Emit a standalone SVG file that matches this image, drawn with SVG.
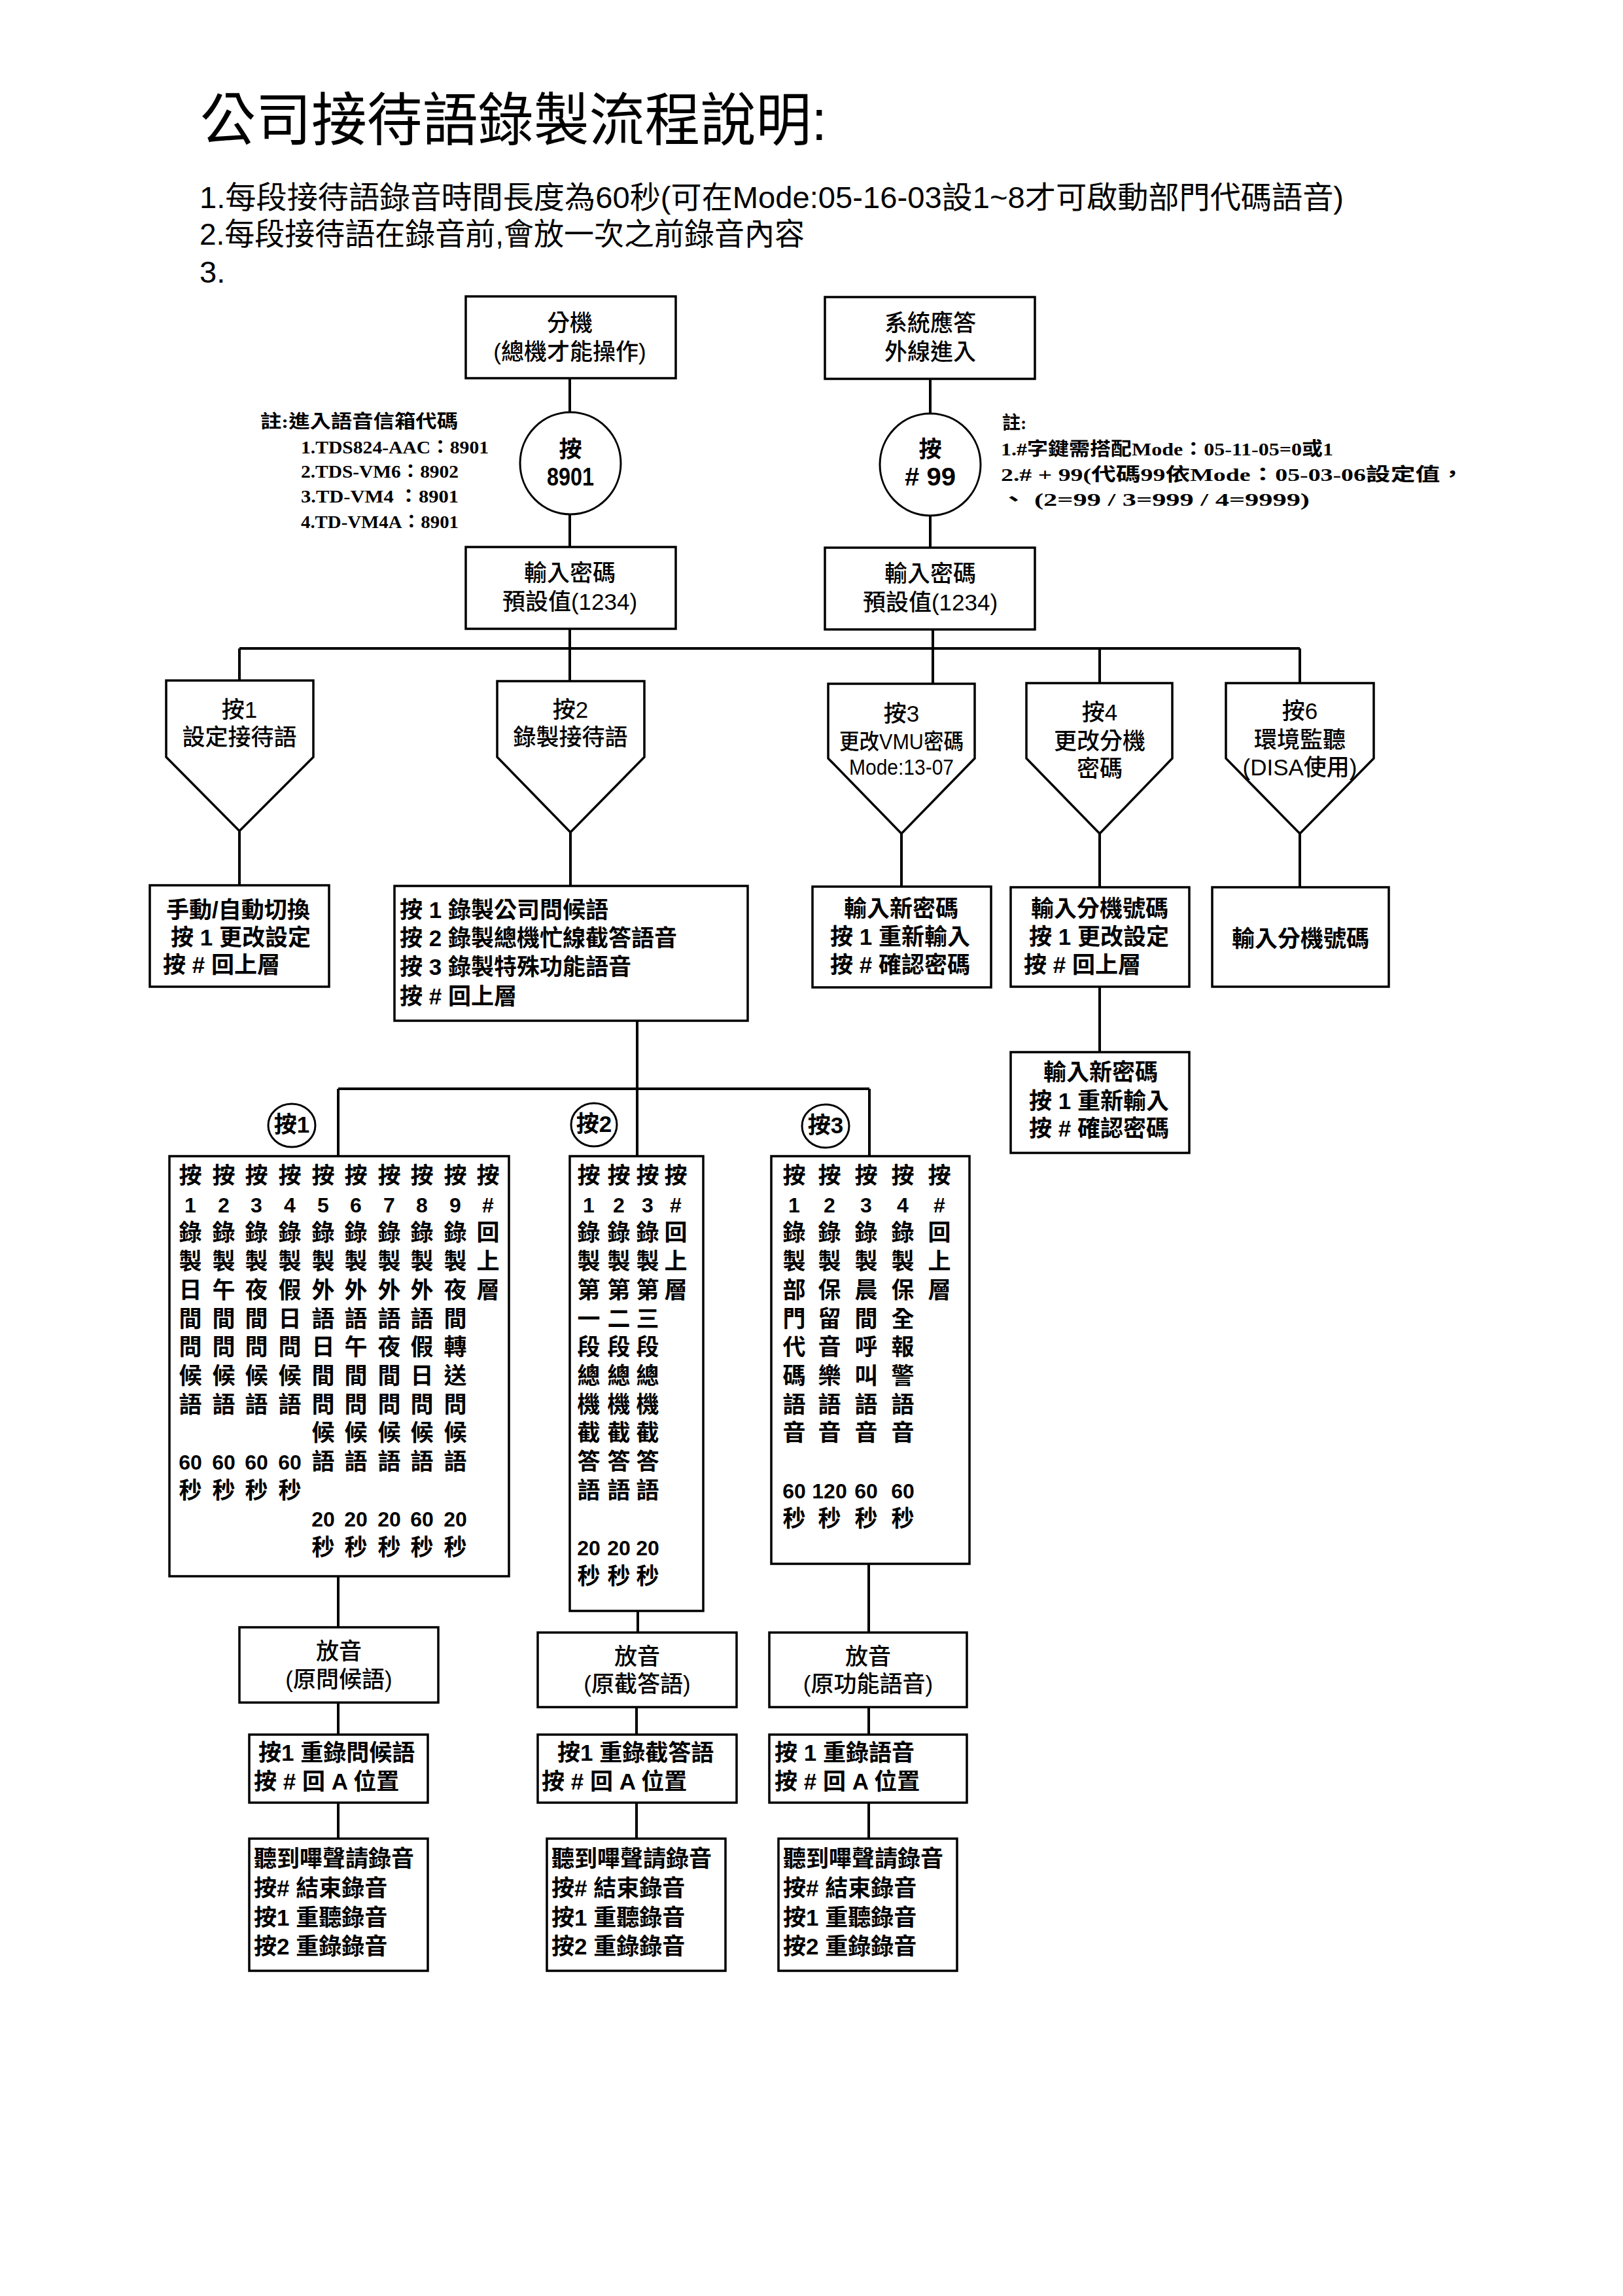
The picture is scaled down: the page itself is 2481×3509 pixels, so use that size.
<svg xmlns="http://www.w3.org/2000/svg" width="2481" height="3509" viewBox="0 0 2481 3509">
<style>
text{font-family:"Liberation Sans","Noto Sans CJK TC","Noto Sans CJK SC",sans-serif;fill:#000}
.box{fill:#fff;stroke:#000;stroke-width:3.5}
.ell{fill:#fff;stroke:#000;stroke-width:3}
.ln{stroke:#000;stroke-width:4;fill:none}
.h{font-weight:400}
.m{font-size:35px;font-weight:500}
.b{font-size:35px;font-weight:700}
.c{text-anchor:middle}
.n{font-family:"Liberation Serif","Noto Sans CJK TC",serif;font-weight:700;font-size:28px}
.g{font-size:35px;font-weight:700;text-anchor:middle}
.d{font-size:32px}
</style>
<rect x="0" y="0" width="2481" height="3509" fill="#fff"/>

<g id="header">
<text class="h" x="306" y="214" font-size="88" textLength="958" lengthAdjust="spacingAndGlyphs">公司接待語錄製流程說明:</text>
<text class="h" font-size="47"><tspan x="305" y="318" textLength="1749" lengthAdjust="spacingAndGlyphs">1.每段接待語錄音時間長度為60秒(可在Mode:05-16-03設1~8才可啟動部門代碼語音)</tspan><tspan x="305" y="374" textLength="925" lengthAdjust="spacingAndGlyphs">2.每段接待語在錄音前,會放一次之前錄音內容</tspan><tspan x="305" y="432">3.</tspan></text>
</g>

<g id="connectors">
<line class="ln" x1="871" y1="577" x2="871" y2="630"/>
<line class="ln" x1="871" y1="786" x2="871" y2="836"/>
<line class="ln" x1="1422" y1="578" x2="1422" y2="632"/>
<line class="ln" x1="1422" y1="788" x2="1422" y2="837"/>
<line class="ln" x1="871" y1="961" x2="871" y2="1041"/>
<line class="ln" x1="1426" y1="962" x2="1426" y2="1045"/>
<line class="ln" x1="366" y1="991" x2="1987" y2="991" stroke-width="5"/>
<line class="ln" x1="366" y1="991" x2="366" y2="1040"/>
<line class="ln" x1="1681" y1="991" x2="1681" y2="1044"/>
<line class="ln" x1="1987" y1="991" x2="1987" y2="1044"/>
<line class="ln" x1="366" y1="1270" x2="366" y2="1353"/>
<line class="ln" x1="872" y1="1272" x2="872" y2="1354"/>
<line class="ln" x1="1378" y1="1274" x2="1378" y2="1355"/>
<line class="ln" x1="1681" y1="1274" x2="1681" y2="1356"/>
<line class="ln" x1="1987" y1="1274" x2="1987" y2="1356"/>
<line class="ln" x1="1681" y1="1508" x2="1681" y2="1608"/>
<line class="ln" x1="974" y1="1560" x2="974" y2="1767"/>
<line class="ln" x1="517" y1="1664" x2="1329" y2="1664"/>
<line class="ln" x1="517" y1="1664" x2="517" y2="1767"/>
<line class="ln" x1="1329" y1="1664" x2="1329" y2="1767"/>
<line class="ln" x1="517" y1="2409" x2="517" y2="2487"/>
<line class="ln" x1="975" y1="2462" x2="975" y2="2495"/>
<line class="ln" x1="1328" y1="2390" x2="1328" y2="2495"/>
<line class="ln" x1="517" y1="2602" x2="517" y2="2651"/>
<line class="ln" x1="973" y1="2609" x2="973" y2="2651"/>
<line class="ln" x1="1328" y1="2609" x2="1328" y2="2651"/>
<line class="ln" x1="517" y1="2755" x2="517" y2="2810"/>
<line class="ln" x1="973" y1="2755" x2="973" y2="2810"/>
<line class="ln" x1="1328" y1="2755" x2="1328" y2="2810"/>
</g>

<g id="ext">
<rect class="box" x="712" y="453" width="321" height="125"/>
<text class="m c"><tspan x="871" y="506">分機</tspan><tspan x="871" y="550">(總機才能操作)</tspan></text>
</g>
<g id="sys">
<rect class="box" x="1261" y="454" width="321" height="125"/>
<text class="m c"><tspan x="1422" y="506">系統應答</tspan><tspan x="1422" y="550">外線進入</tspan></text>
</g>
<g id="press8901">
<ellipse class="ell" cx="872" cy="708" rx="77" ry="78"/>
<text class="b c"><tspan x="872" y="699">按</tspan><tspan x="872" y="742" font-size="38" textLength="72" lengthAdjust="spacingAndGlyphs">8901</tspan></text>
</g>
<g id="press99">
<ellipse class="ell" cx="1422" cy="710" rx="77" ry="78"/>
<text class="b c"><tspan x="1422" y="699">按</tspan><tspan x="1422" y="742" font-size="38" textLength="78" lengthAdjust="spacingAndGlyphs"># 99</tspan></text>
</g>
<g id="note-left">
<text class="n"><tspan x="398" y="654" textLength="302" lengthAdjust="spacingAndGlyphs">註:進入語音信箱代碼</tspan><tspan x="460" y="693" textLength="287" lengthAdjust="spacingAndGlyphs">1.TDS824-AAC：8901</tspan><tspan x="460" y="730" textLength="241" lengthAdjust="spacingAndGlyphs">2.TDS-VM6：8902</tspan><tspan x="460" y="768" textLength="241" lengthAdjust="spacingAndGlyphs">3.TD-VM4  ：8901</tspan><tspan x="460" y="807" textLength="241" lengthAdjust="spacingAndGlyphs">4.TD-VM4A：8901</tspan></text>
</g>
<g id="note-right">
<text class="n"><tspan x="1532" y="656">註:</tspan><tspan x="1530" y="696" textLength="508" lengthAdjust="spacingAndGlyphs">1.#字鍵需搭配Mode：05-11-05=0或1</tspan><tspan x="1530" y="735" textLength="709" lengthAdjust="spacingAndGlyphs">2.# + 99(代碼99依Mode：05-03-06設定值，</tspan><tspan x="1528" y="773" textLength="474" lengthAdjust="spacingAndGlyphs">、 (2=99 / 3=999  /  4=9999)</tspan></text>
</g>
<g id="pwd1">
<rect class="box" x="712" y="836" width="321" height="125"/>
<text class="m c"><tspan x="871" y="888">輸入密碼</tspan><tspan x="871" y="932">預設值(1234)</tspan></text>
</g>
<g id="pwd2">
<rect class="box" x="1261" y="837" width="321" height="125"/>
<text class="m c"><tspan x="1422" y="889">輸入密碼</tspan><tspan x="1422" y="933">預設值(1234)</tspan></text>
</g>

<g id="p1">
<path class="box" d="M254,1040 H479 V1157 L366,1270 L254,1157 Z"/>
<text class="m c"><tspan x="366" y="1097">按1</tspan><tspan x="366" y="1139">設定接待語</tspan></text>
</g>
<g id="p2">
<path class="box" d="M760,1041 H985 V1157 L872,1272 L760,1157 Z"/>
<text class="m c"><tspan x="872" y="1097">按2</tspan><tspan x="872" y="1139">錄製接待語</tspan></text>
</g>
<g id="p3">
<path class="box" d="M1266,1045 H1490 V1159 L1378,1274 L1266,1159 Z"/>
<text class="m c"><tspan x="1378" y="1103">按3</tspan><tspan x="1378" y="1145" font-size="33" textLength="190" lengthAdjust="spacingAndGlyphs">更改VMU密碼</tspan><tspan x="1378" y="1184" font-size="33" textLength="160" lengthAdjust="spacingAndGlyphs">Mode:13-07</tspan></text>
</g>
<g id="p4">
<path class="box" d="M1569,1044 H1792 V1159 L1681,1274 L1569,1159 Z"/>
<text class="m c"><tspan x="1681" y="1101">按4</tspan><tspan x="1681" y="1145">更改分機</tspan><tspan x="1681" y="1187">密碼</tspan></text>
</g>
<g id="p6">
<path class="box" d="M1874,1044 H2100 V1159 L1987,1274 L1874,1159 Z"/>
<text class="m c"><tspan x="1987" y="1099">按6</tspan><tspan x="1987" y="1143">環境監聽</tspan><tspan x="1987" y="1185">(DISA使用)</tspan></text>
</g>

<g id="b1">
<rect class="box" x="229" y="1353" width="274" height="155"/>
<text class="b"><tspan x="254" y="1403">手動/自動切換</tspan><tspan x="261" y="1445">按 1 更改設定</tspan><tspan x="249" y="1487">按 # 回上層</tspan></text>
</g>
<g id="b2">
<rect class="box" x="603" y="1354" width="540" height="206"/>
<text class="b"><tspan x="611" y="1403">按 1 錄製公司問候語</tspan><tspan x="611" y="1446">按 2 錄製總機忙線截答語音</tspan><tspan x="611" y="1490">按 3 錄製特殊功能語音</tspan><tspan x="611" y="1535">按 # 回上層</tspan></text>
</g>
<g id="b3">
<rect class="box" x="1242" y="1355" width="273" height="154"/>
<text class="b"><tspan x="1290" y="1401">輸入新密碼</tspan><tspan x="1269" y="1444">按 1 重新輸入</tspan><tspan x="1269" y="1487">按 # 確認密碼</tspan></text>
</g>
<g id="b4">
<rect class="box" x="1545" y="1356" width="273" height="152"/>
<text class="b"><tspan x="1576" y="1401">輸入分機號碼</tspan><tspan x="1573" y="1444">按 1 更改設定</tspan><tspan x="1565" y="1487">按 # 回上層</tspan></text>
</g>
<g id="b5">
<rect class="box" x="1853" y="1356" width="270" height="152"/>
<text class="b c" x="1988" y="1447">輸入分機號碼</text>
</g>
<g id="b6">
<rect class="box" x="1545" y="1608" width="273" height="154"/>
<text class="b"><tspan x="1595" y="1651">輸入新密碼</tspan><tspan x="1573" y="1695">按 1 重新輸入</tspan><tspan x="1573" y="1737">按 # 確認密碼</tspan></text>
</g>

<g id="k1">
<ellipse class="ell" cx="446" cy="1720" rx="36" ry="33"/>
<text class="b c" x="446" y="1731" font-size="30">按1</text>
</g>
<g id="k2">
<ellipse class="ell" cx="908" cy="1719" rx="35" ry="33"/>
<text class="b c" x="908" y="1730" font-size="30">按2</text>
</g>
<g id="k3">
<ellipse class="ell" cx="1262" cy="1721" rx="36" ry="33"/>
<text class="b c" x="1262" y="1732" font-size="30">按3</text>
</g>

<g id="c1">
<rect class="box" x="259" y="1767" width="519" height="642"/>
<text class="g"><tspan x="291" y="1809">按</tspan><tspan x="291" y="1853" class="d">1</tspan><tspan x="291" y="1896">錄</tspan><tspan x="291" y="1940">製</tspan><tspan x="291" y="1984">日</tspan><tspan x="291" y="2028">間</tspan><tspan x="291" y="2071">問</tspan><tspan x="291" y="2115">候</tspan><tspan x="291" y="2159">語</tspan><tspan x="291" y="2246" class="d">60</tspan><tspan x="291" y="2290">秒</tspan></text>
<text class="g"><tspan x="342" y="1809">按</tspan><tspan x="342" y="1853" class="d">2</tspan><tspan x="342" y="1896">錄</tspan><tspan x="342" y="1940">製</tspan><tspan x="342" y="1984">午</tspan><tspan x="342" y="2028">間</tspan><tspan x="342" y="2071">問</tspan><tspan x="342" y="2115">候</tspan><tspan x="342" y="2159">語</tspan><tspan x="342" y="2246" class="d">60</tspan><tspan x="342" y="2290">秒</tspan></text>
<text class="g"><tspan x="392" y="1809">按</tspan><tspan x="392" y="1853" class="d">3</tspan><tspan x="392" y="1896">錄</tspan><tspan x="392" y="1940">製</tspan><tspan x="392" y="1984">夜</tspan><tspan x="392" y="2028">間</tspan><tspan x="392" y="2071">問</tspan><tspan x="392" y="2115">候</tspan><tspan x="392" y="2159">語</tspan><tspan x="392" y="2246" class="d">60</tspan><tspan x="392" y="2290">秒</tspan></text>
<text class="g"><tspan x="443" y="1809">按</tspan><tspan x="443" y="1853" class="d">4</tspan><tspan x="443" y="1896">錄</tspan><tspan x="443" y="1940">製</tspan><tspan x="443" y="1984">假</tspan><tspan x="443" y="2028">日</tspan><tspan x="443" y="2071">問</tspan><tspan x="443" y="2115">候</tspan><tspan x="443" y="2159">語</tspan><tspan x="443" y="2246" class="d">60</tspan><tspan x="443" y="2290">秒</tspan></text>
<text class="g"><tspan x="494" y="1809">按</tspan><tspan x="494" y="1853" class="d">5</tspan><tspan x="494" y="1896">錄</tspan><tspan x="494" y="1940">製</tspan><tspan x="494" y="1984">外</tspan><tspan x="494" y="2028">語</tspan><tspan x="494" y="2071">日</tspan><tspan x="494" y="2115">間</tspan><tspan x="494" y="2159">問</tspan><tspan x="494" y="2202">候</tspan><tspan x="494" y="2246">語</tspan><tspan x="494" y="2333" class="d">20</tspan><tspan x="494" y="2377">秒</tspan></text>
<text class="g"><tspan x="544" y="1809">按</tspan><tspan x="544" y="1853" class="d">6</tspan><tspan x="544" y="1896">錄</tspan><tspan x="544" y="1940">製</tspan><tspan x="544" y="1984">外</tspan><tspan x="544" y="2028">語</tspan><tspan x="544" y="2071">午</tspan><tspan x="544" y="2115">間</tspan><tspan x="544" y="2159">問</tspan><tspan x="544" y="2202">候</tspan><tspan x="544" y="2246">語</tspan><tspan x="544" y="2333" class="d">20</tspan><tspan x="544" y="2377">秒</tspan></text>
<text class="g"><tspan x="595" y="1809">按</tspan><tspan x="595" y="1853" class="d">7</tspan><tspan x="595" y="1896">錄</tspan><tspan x="595" y="1940">製</tspan><tspan x="595" y="1984">外</tspan><tspan x="595" y="2028">語</tspan><tspan x="595" y="2071">夜</tspan><tspan x="595" y="2115">間</tspan><tspan x="595" y="2159">問</tspan><tspan x="595" y="2202">候</tspan><tspan x="595" y="2246">語</tspan><tspan x="595" y="2333" class="d">20</tspan><tspan x="595" y="2377">秒</tspan></text>
<text class="g"><tspan x="645" y="1809">按</tspan><tspan x="645" y="1853" class="d">8</tspan><tspan x="645" y="1896">錄</tspan><tspan x="645" y="1940">製</tspan><tspan x="645" y="1984">外</tspan><tspan x="645" y="2028">語</tspan><tspan x="645" y="2071">假</tspan><tspan x="645" y="2115">日</tspan><tspan x="645" y="2159">問</tspan><tspan x="645" y="2202">候</tspan><tspan x="645" y="2246">語</tspan><tspan x="645" y="2333" class="d">60</tspan><tspan x="645" y="2377">秒</tspan></text>
<text class="g"><tspan x="696" y="1809">按</tspan><tspan x="696" y="1853" class="d">9</tspan><tspan x="696" y="1896">錄</tspan><tspan x="696" y="1940">製</tspan><tspan x="696" y="1984">夜</tspan><tspan x="696" y="2028">間</tspan><tspan x="696" y="2071">轉</tspan><tspan x="696" y="2115">送</tspan><tspan x="696" y="2159">問</tspan><tspan x="696" y="2202">候</tspan><tspan x="696" y="2246">語</tspan><tspan x="696" y="2333" class="d">20</tspan><tspan x="696" y="2377">秒</tspan></text>
<text class="g"><tspan x="746" y="1809">按</tspan><tspan x="746" y="1853" class="d">#</tspan><tspan x="746" y="1896">回</tspan><tspan x="746" y="1940">上</tspan><tspan x="746" y="1984">層</tspan></text>
</g>

<g id="c2">
<rect class="box" x="871" y="1767" width="204" height="695"/>
<text class="g"><tspan x="900" y="1809">按</tspan><tspan x="900" y="1853" class="d">1</tspan><tspan x="900" y="1896">錄</tspan><tspan x="900" y="1940">製</tspan><tspan x="900" y="1984">第</tspan><tspan x="900" y="2028">一</tspan><tspan x="900" y="2071">段</tspan><tspan x="900" y="2115">總</tspan><tspan x="900" y="2159">機</tspan><tspan x="900" y="2202">截</tspan><tspan x="900" y="2246">答</tspan><tspan x="900" y="2290">語</tspan><tspan x="900" y="2377" class="d">20</tspan><tspan x="900" y="2421">秒</tspan></text>
<text class="g"><tspan x="946" y="1809">按</tspan><tspan x="946" y="1853" class="d">2</tspan><tspan x="946" y="1896">錄</tspan><tspan x="946" y="1940">製</tspan><tspan x="946" y="1984">第</tspan><tspan x="946" y="2028">二</tspan><tspan x="946" y="2071">段</tspan><tspan x="946" y="2115">總</tspan><tspan x="946" y="2159">機</tspan><tspan x="946" y="2202">截</tspan><tspan x="946" y="2246">答</tspan><tspan x="946" y="2290">語</tspan><tspan x="946" y="2377" class="d">20</tspan><tspan x="946" y="2421">秒</tspan></text>
<text class="g"><tspan x="990" y="1809">按</tspan><tspan x="990" y="1853" class="d">3</tspan><tspan x="990" y="1896">錄</tspan><tspan x="990" y="1940">製</tspan><tspan x="990" y="1984">第</tspan><tspan x="990" y="2028">三</tspan><tspan x="990" y="2071">段</tspan><tspan x="990" y="2115">總</tspan><tspan x="990" y="2159">機</tspan><tspan x="990" y="2202">截</tspan><tspan x="990" y="2246">答</tspan><tspan x="990" y="2290">語</tspan><tspan x="990" y="2377" class="d">20</tspan><tspan x="990" y="2421">秒</tspan></text>
<text class="g"><tspan x="1033" y="1809">按</tspan><tspan x="1033" y="1853" class="d">#</tspan><tspan x="1033" y="1896">回</tspan><tspan x="1033" y="1940">上</tspan><tspan x="1033" y="1984">層</tspan></text>
</g>

<g id="c3">
<rect class="box" x="1179" y="1767" width="303" height="623"/>
<text class="g"><tspan x="1214" y="1809">按</tspan><tspan x="1214" y="1853" class="d">1</tspan><tspan x="1214" y="1896">錄</tspan><tspan x="1214" y="1940">製</tspan><tspan x="1214" y="1984">部</tspan><tspan x="1214" y="2028">門</tspan><tspan x="1214" y="2071">代</tspan><tspan x="1214" y="2115">碼</tspan><tspan x="1214" y="2159">語</tspan><tspan x="1214" y="2202">音</tspan><tspan x="1214" y="2290" class="d">60</tspan><tspan x="1214" y="2333">秒</tspan></text>
<text class="g"><tspan x="1268" y="1809">按</tspan><tspan x="1268" y="1853" class="d">2</tspan><tspan x="1268" y="1896">錄</tspan><tspan x="1268" y="1940">製</tspan><tspan x="1268" y="1984">保</tspan><tspan x="1268" y="2028">留</tspan><tspan x="1268" y="2071">音</tspan><tspan x="1268" y="2115">樂</tspan><tspan x="1268" y="2159">語</tspan><tspan x="1268" y="2202">音</tspan><tspan x="1268" y="2290" class="d">120</tspan><tspan x="1268" y="2333">秒</tspan></text>
<text class="g"><tspan x="1324" y="1809">按</tspan><tspan x="1324" y="1853" class="d">3</tspan><tspan x="1324" y="1896">錄</tspan><tspan x="1324" y="1940">製</tspan><tspan x="1324" y="1984">晨</tspan><tspan x="1324" y="2028">間</tspan><tspan x="1324" y="2071">呼</tspan><tspan x="1324" y="2115">叫</tspan><tspan x="1324" y="2159">語</tspan><tspan x="1324" y="2202">音</tspan><tspan x="1324" y="2290" class="d">60</tspan><tspan x="1324" y="2333">秒</tspan></text>
<text class="g"><tspan x="1380" y="1809">按</tspan><tspan x="1380" y="1853" class="d">4</tspan><tspan x="1380" y="1896">錄</tspan><tspan x="1380" y="1940">製</tspan><tspan x="1380" y="1984">保</tspan><tspan x="1380" y="2028">全</tspan><tspan x="1380" y="2071">報</tspan><tspan x="1380" y="2115">警</tspan><tspan x="1380" y="2159">語</tspan><tspan x="1380" y="2202">音</tspan><tspan x="1380" y="2290" class="d">60</tspan><tspan x="1380" y="2333">秒</tspan></text>
<text class="g"><tspan x="1436" y="1809">按</tspan><tspan x="1436" y="1853" class="d">#</tspan><tspan x="1436" y="1896">回</tspan><tspan x="1436" y="1940">上</tspan><tspan x="1436" y="1984">層</tspan></text>
</g>

<g id="d1">
<rect class="box" x="366" y="2487" width="304" height="115"/>
<text class="m c"><tspan x="518" y="2536">放音</tspan><tspan x="518" y="2579">(原問候語)</tspan></text>
</g>
<g id="d2">
<rect class="box" x="822" y="2495" width="304" height="114"/>
<text class="m c"><tspan x="974" y="2544">放音</tspan><tspan x="974" y="2586">(原截答語)</tspan></text>
</g>
<g id="d3">
<rect class="box" x="1176" y="2495" width="302" height="114"/>
<text class="m c"><tspan x="1327" y="2544">放音</tspan><tspan x="1327" y="2586">(原功能語音)</tspan></text>
</g>

<g id="e1">
<rect class="box" x="381" y="2651" width="273" height="104"/>
<text class="b"><tspan x="395" y="2691">按1 重錄問候語</tspan><tspan x="388" y="2735">按 # 回 A 位置</tspan></text>
</g>
<g id="e2">
<rect class="box" x="822" y="2651" width="304" height="104"/>
<text class="b"><tspan x="852" y="2691">按1 重錄截答語</tspan><tspan x="828" y="2735">按 # 回 A 位置</tspan></text>
</g>
<g id="e3">
<rect class="box" x="1176" y="2651" width="302" height="104"/>
<text class="b"><tspan x="1184" y="2691">按 1 重錄語音</tspan><tspan x="1184" y="2735">按 # 回 A 位置</tspan></text>
</g>

<g id="f1">
<rect class="box" x="381" y="2810" width="273" height="202"/>
<text class="b"><tspan x="388" y="2853">聽到嗶聲請錄音</tspan><tspan x="388" y="2898">按# 結束錄音</tspan><tspan x="388" y="2943">按1 重聽錄音</tspan><tspan x="388" y="2987">按2 重錄錄音</tspan></text>
</g>
<g id="f2">
<rect class="box" x="836" y="2810" width="273" height="202"/>
<text class="b"><tspan x="843" y="2853">聽到嗶聲請錄音</tspan><tspan x="843" y="2898">按# 結束錄音</tspan><tspan x="843" y="2943">按1 重聽錄音</tspan><tspan x="843" y="2987">按2 重錄錄音</tspan></text>
</g>
<g id="f3">
<rect class="box" x="1190" y="2810" width="273" height="202"/>
<text class="b"><tspan x="1197" y="2853">聽到嗶聲請錄音</tspan><tspan x="1197" y="2898">按# 結束錄音</tspan><tspan x="1197" y="2943">按1 重聽錄音</tspan><tspan x="1197" y="2987">按2 重錄錄音</tspan></text>
</g>
</svg>
